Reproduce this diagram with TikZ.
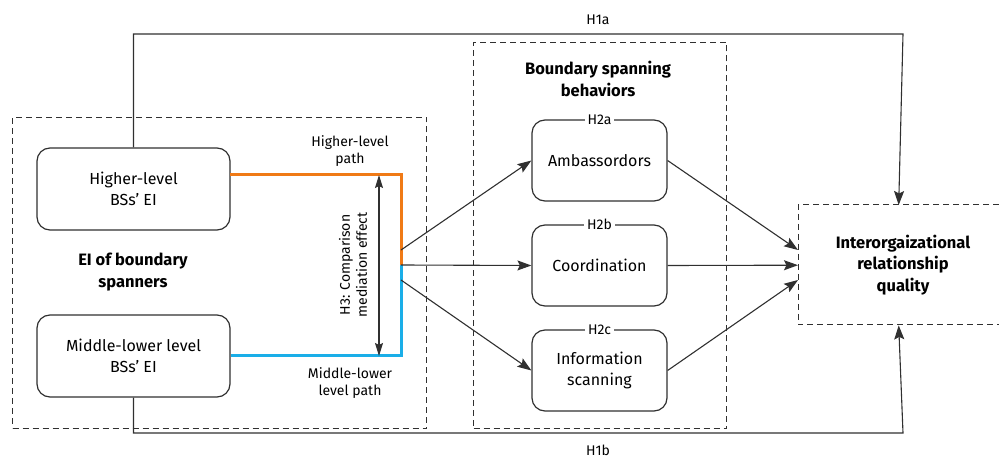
\documentclass[tikz,border=0pt]{standalone}
\usepackage{fontspec}
\setmainfont{Fira Sans}
\usetikzlibrary{arrows.meta}
\definecolor{ink}{HTML}{303030}
\definecolor{orangeP}{HTML}{F07A16}
\definecolor{blueP}{HTML}{1AAEE8}
\tikzset{
  rbox/.style={draw=ink, line width=1.2pt, rounded corners=13pt, minimum width=193pt, minimum height=82pt, align=center, font=\fontsize{16}{21.5}\selectfont, inner sep=0pt},
  sbox/.style={draw=ink, line width=1.2pt, rounded corners=13pt, minimum width=135pt, minimum height=81pt, align=center, font=\fontsize{16}{21.5}\selectfont, inner sep=0pt},
  grp/.style={draw=ink, line width=1pt, dash pattern=on 6pt off 4pt},
  ttl/.style={font=\fontsize{16.5}{21.5}\selectfont\bfseries, align=center, inner sep=0pt},
  small/.style={font=\fontsize{14}{17}\selectfont, align=center, inner sep=0pt},
  hlabel/.style={font=\fontsize{14}{15}\selectfont, fill=white, inner sep=3pt},
  conn/.style={draw=ink, line width=1.1pt},
  arr/.style={conn, -{Stealth[length=14pt,width=10pt,inset=2.5pt]}},
  darr/.style={conn, {Stealth[length=13pt,width=8pt,inset=2pt]}-{Stealth[length=13pt,width=8pt,inset=2pt]}},
  path1/.style={line width=3pt, orangeP},
  path2/.style={line width=3pt, blueP}
}
\begin{document}
\begin{tikzpicture}[x=1pt,y=-1pt]
\useasboundingbox (0,0) rectangle (999,462);
% group boxes
\node[grp, minimum width=414pt, minimum height=311pt, anchor=north west, inner sep=0pt] (gEI) at (12,117) {};
\node[grp, minimum width=253pt, minimum height=386pt, anchor=north west, inner sep=0pt] (gBS) at (473,42) {};
\draw[grp] (999,205) -- (798,205) -- (798,325) -- (999,325);
\node[minimum width=201pt, minimum height=120pt, anchor=north west, inner sep=0pt] (irq) at (798,205) {};
\node[ttl] (irqT) at (903,265) {Interorgaizational\\relationship\\quality};
% titles
\node[ttl] (eiT) at (133,272) {EI of boundary\\spanners};
\node[ttl] (bsT) at (598,79) {Boundary spanning\\behaviors};
% left boxes
\node[rbox] (hi) at (133.5,189) {Higher-level\\BSs’ EI};
\node[rbox] (ml) at (133.5,356) {Middle-lower level\\BSs’ EI};
% behavior boxes
\node[sbox] (amb) at (599.5,160.5) {Ambassordors};
\node[sbox] (coo) at (599.5,265.5) {Coordination};
\node[sbox] (inf) at (599.5,370.5) {Information\\scanning};
\node[hlabel] (h2a) at (amb.north) {H2a};
\node[hlabel] (h2b) at (coo.north) {H2b};
\node[hlabel] (h2c) at (inf.north) {H2c};
% path coordinates
\coordinate (oS) at (230,175);
\coordinate (oC) at (401,175);
\coordinate (sp) at (401,265);
\coordinate (bC) at (401,356);
\coordinate (a1) at (401,250);
\coordinate (a3) at (401,280);
\coordinate (dT) at (379,175);
\coordinate (dB) at (379,356);
\coordinate (q1) at (798,250);
\coordinate (q3) at (798,280);
\coordinate (tr) at (903,34);
\coordinate (br) at (903,433);
% colored paths
\draw[path1] (oS) -- (oC) -- (sp);
\draw[path2] (sp) -- (bC) -- (ml.east);
\draw[darr] (dT) -- (dB);
\node[small, rotate=90] (h3) at (353,265) {H3: Comparison\\mediation effect};
\node[small] (hpl) at (350,151) {Higher-level\\path};
\node[small] (mpl) at (350,383) {Middle-lower\\level path};
% arrows to behaviors
\draw[arr] (a1) -- (amb.west);
\draw[arr] (sp) -- (coo.west);
\draw[arr] (a3) -- (inf.west);
% arrows to IRQ
\draw[arr] (amb.east) -- (q1);
\draw[arr] (coo.east) -- (irq.west);
\draw[arr] (inf.east) -- (q3);
% H1a / H1b
\draw[arr] (hi.north) |- (tr) -- (irq.north);
\draw[arr] (ml.south) |- (br) -- (irq.south);
\node[small] (h1a) at (598,20) {H1a};
\node[small] (h1b) at (598,450) {H1b};
\end{tikzpicture}
\end{document}
